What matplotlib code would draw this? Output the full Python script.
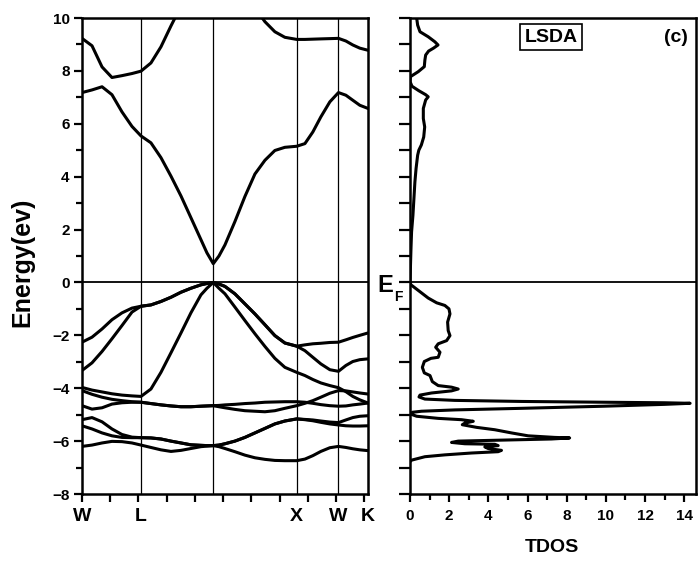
import numpy as np
import matplotlib
matplotlib.use("Agg")
import matplotlib.pyplot as plt
from matplotlib.ticker import MultipleLocator, FixedLocator, NullFormatter
from matplotlib.transforms import blended_transform_factory

plt.rcParams['font.family'] = ['Liberation Sans', 'DejaVu Sans']
plt.rcParams['font.weight'] = 'bold'

# k path W-L-Gamma-X-W-K (units of 2pi/a)
sym_labels = ['W', 'L', 'X', 'W', 'K']
sym_k = [0.0, 0.707, 2.573, 3.073, 3.427]
line_k = [0.707, 1.573, 2.573, 3.073]

k = [0.0, 0.120, 0.240, 0.359, 0.479, 0.599, 0.707,
     0.826, 0.946, 1.066, 1.186, 1.305, 1.425, 1.497, 1.573,
     1.641, 1.713, 1.832, 1.952, 2.072, 2.192, 2.311, 2.431, 2.573,
     2.671, 2.766, 2.862, 2.970, 3.073,
     3.162, 3.245, 3.329, 3.427]

# valence bands (eV)
band1 = [-2.26, -2.07, -1.76, -1.41, -1.15, -0.97, -0.90,
         -0.85, -0.72, -0.56, -0.37, -0.22, -0.09, -0.04, 0.0,
         -0.06, -0.15, -0.43, -0.81, -1.19, -1.60, -2.01, -2.29, -2.41,
         -2.36, -2.32, -2.30, -2.27, -2.26,
         -2.17, -2.08, -2.00, -1.91]
band2 = [-3.33, -3.04, -2.61, -2.13, -1.63, -1.12, -0.90,
         -0.85, -0.72, -0.56, -0.37, -0.22, -0.09, -0.04, 0.0,
         -0.06, -0.15, -0.43, -0.81, -1.19, -1.60, -2.01, -2.29, -2.41,
         -2.58, -2.83, -3.08, -3.30, -3.36,
         -3.14, -2.99, -2.92, -2.89]
band3 = [-3.97, -4.07, -4.14, -4.21, -4.26, -4.29, -4.31,
         -4.03, -3.40, -2.66, -1.91, -1.15, -0.47, -0.22, 0.0,
         -0.22, -0.43, -0.93, -1.44, -1.94, -2.42, -2.87, -3.21, -3.40,
         -3.52, -3.67, -3.80, -3.90, -3.98,
         -4.13, -4.31, -4.44, -4.56]
band4 = [-4.09, -4.23, -4.34, -4.42, -4.47, -4.51, -4.53,
         -4.58, -4.63, -4.67, -4.70, -4.70, -4.68, -4.67, -4.66,
         -4.65, -4.63, -4.61, -4.58, -4.56, -4.53, -4.52, -4.51, -4.51,
         -4.53, -4.57, -4.62, -4.66, -4.68,
         -4.67, -4.63, -4.60, -4.56]
band5 = [-4.66, -4.79, -4.74, -4.60, -4.55, -4.53, -4.53,
         -4.58, -4.63, -4.67, -4.70, -4.70, -4.68, -4.67, -4.66,
         -4.70, -4.74, -4.80, -4.85, -4.87, -4.89, -4.85, -4.76, -4.66,
         -4.57, -4.47, -4.34, -4.19, -4.09,
         -4.10, -4.14, -4.18, -4.22]
band6 = [-5.19, -5.11, -5.27, -5.54, -5.75, -5.85, -5.87,
         -5.88, -5.92, -6.00, -6.07, -6.14, -6.16, -6.17, -6.17,
         -6.15, -6.10, -6.00, -5.86, -5.69, -5.52, -5.35, -5.24, -5.16,
         -5.18, -5.20, -5.24, -5.28, -5.30,
         -5.20, -5.11, -5.06, -5.04]
band7 = [-5.42, -5.54, -5.69, -5.80, -5.86, -5.87, -5.87,
         -5.88, -5.92, -6.00, -6.07, -6.14, -6.16, -6.17, -6.17,
         -6.15, -6.10, -6.00, -5.86, -5.69, -5.52, -5.35, -5.24, -5.16,
         -5.19, -5.23, -5.29, -5.35, -5.39,
         -5.42, -5.43, -5.43, -5.42]
band8 = [-6.20, -6.15, -6.07, -6.01, -6.02, -6.07, -6.15,
         -6.24, -6.33, -6.39, -6.35, -6.28, -6.21, -6.19, -6.17,
         -6.21, -6.28, -6.40, -6.53, -6.63, -6.69, -6.73, -6.74, -6.74,
         -6.68, -6.55, -6.39, -6.25, -6.20,
         -6.24, -6.29, -6.33, -6.36]

# conduction bands
cband1 = [7.18, 7.28, 7.40, 7.10, 6.45, 5.90, 5.54,
          5.28, 4.72, 4.02, 3.27, 2.45, 1.62, 1.12, 0.71,
          1.00, 1.42, 2.30, 3.25, 4.10, 4.62, 4.99, 5.11, 5.15,
          5.25, 5.69, 6.26, 6.83, 7.18,
          7.08, 6.89, 6.70, 6.58]
k_c2 = [0.0, 0.120, 0.240, 0.359, 0.479, 0.599, 0.707, 0.826, 0.946, 1.066, 1.114]
cband2 = [9.23, 8.95, 8.15, 7.75, 7.82, 7.90, 7.99, 8.30, 8.91, 9.70, 10.0]
k_c3 = [2.16, 2.192, 2.311, 2.431, 2.573, 2.671, 2.766, 2.862, 2.970, 3.073,
        3.162, 3.245, 3.329, 3.427]
cband3 = [10.0, 9.86, 9.48, 9.27, 9.19, 9.19, 9.20, 9.21, 9.22, 9.23,
          9.13, 8.98, 8.86, 8.78]

# total DOS: energy (eV) and states
dos_e = [10.0, 9.73, 9.48, 9.29, 9.10, 8.98, 8.86, 8.75, 8.60, 8.41, 8.16, 7.97,
         7.78, 7.60, 7.42, 7.25, 7.10, 7.02, 6.90, 6.58, 6.20, 5.88, 5.50, 5.20,
         5.00, 4.81, 4.31, 3.80, 3.17, 2.54, 1.91, 1.28, 0.52, 0.0,
         -0.09, -0.30, -0.59, -0.77, -0.87, -1.00, -1.19, -1.50, -1.82, -2.01,
         -2.20, -2.32, -2.45, -2.64, -2.83, -2.87, -2.99, -3.21, -3.42, -3.52,
         -3.75, -3.90, -3.96, -4.03, -4.10, -4.18, -4.26, -4.33, -4.41, -4.46,
         -4.50, -4.53, -4.55, -4.57, -4.61, -4.68, -4.76, -4.82, -4.87, -4.91,
         -4.99, -5.06, -5.14, -5.19, -5.25, -5.32, -5.38, -5.48, -5.57, -5.69,
         -5.80, -5.86, -5.88, -5.92, -5.96, -6.00, -6.05, -6.10, -6.12, -6.17,
         -6.22, -6.28, -6.35, -6.40, -6.45, -6.52, -6.59, -6.72, -6.78]
dos_v = [0.34, 0.39, 0.51, 0.93, 1.27, 1.43, 1.20, 0.95, 0.80, 0.76, 0.73, 0.42,
         0.02, 0.0, 0.10, 0.45, 0.80, 0.93, 0.80, 0.68, 0.68, 0.75, 0.70, 0.58,
         0.45, 0.39, 0.31, 0.25, 0.20, 0.15, 0.08, 0.05, 0.02, 0.0,
         0.05, 0.42, 0.93, 1.36, 1.78, 1.99, 2.04, 1.92, 1.95, 2.04,
         1.87, 1.44, 1.31, 1.53, 1.44, 1.07, 0.73, 0.63, 0.73, 1.02,
         1.14, 1.44, 2.12, 2.46, 2.12, 1.10, 0.51, 0.46, 0.76, 2.29,
         5.69, 9.93, 13.0, 14.3, 13.0, 9.93, 5.69, 2.29, 0.59, 0.12,
         0.08, 0.34, 1.44, 2.63, 3.23, 2.80, 2.67, 3.40, 4.33, 5.18,
         6.03, 7.39, 8.15, 7.22, 4.84, 2.46, 2.12, 2.80, 4.33, 4.50,
         3.82, 3.99, 4.67, 4.50, 3.14, 1.78, 0.76, 0.08, 0.0]

W, H = 698, 562
fig = plt.figure(figsize=(W / 100, H / 100), dpi=100)
ax1 = fig.add_axes([82 / W, 68 / H, 286 / W, 476 / H])
ax2 = fig.add_axes([410 / W, 68 / H, 286 / W, 476 / H])

# band structure
for b in [band1, band2, band3, band4, band5, band6, band7, band8, cband1]:
    ax1.plot(k, b, color='black', lw=2.2, solid_joinstyle='round')
ax1.plot(k_c2, cband2, color='black', lw=2.2, solid_joinstyle='round')
ax1.plot(k_c3, cband3, color='black', lw=2.2, solid_joinstyle='round')
for x in line_k:
    ax1.axvline(x, color='black', lw=0.9)
ax1.axhline(0, color='black', lw=1.3)
ax1.set_xlim(0, 3.427)
ax1.set_ylim(-8, 10)
ax1.yaxis.set_major_locator(MultipleLocator(2))
ax1.yaxis.set_minor_locator(MultipleLocator(1))
ax1.xaxis.set_major_locator(FixedLocator(np.arange(0, 3.42, 0.3385)))
ax1.xaxis.set_major_formatter(NullFormatter())
ax1.tick_params(axis='y', which='major', direction='out', length=6, width=1.6,
                labelsize=11, pad=3)
ax1.tick_params(axis='y', which='minor', direction='out', length=4, width=1.6)
ax1.tick_params(axis='x', which='major', direction='out', length=6, width=1.6)
for lab in ax1.get_yticklabels():
    lab.set_fontweight('bold')
trans = blended_transform_factory(ax1.transData, ax1.transAxes)
for kk, lab in zip(sym_k, sym_labels):
    ax1.text(kk, -0.029, lab, transform=trans, ha='center', va='top',
             fontsize=14, fontweight='bold')

# TDOS
ax2.plot(dos_v, dos_e, color='black', lw=2.2, solid_joinstyle='round')
ax2.axhline(0, color='black', lw=1.3)
ax2.set_xlim(0, 14.6)
ax2.set_ylim(-8, 10)
ax2.xaxis.set_major_locator(MultipleLocator(2))
ax2.xaxis.set_minor_locator(MultipleLocator(1))
ax2.yaxis.set_major_locator(MultipleLocator(1))
ax2.yaxis.set_major_formatter(NullFormatter())
ax2.tick_params(axis='x', which='major', direction='out', length=6, width=1.6,
                labelsize=11, pad=5)
ax2.tick_params(axis='x', which='minor', direction='out', length=4, width=1.6)
ax2.tick_params(axis='y', which='major', direction='out', length=8, width=1.6)
for lab in ax2.get_xticklabels():
    lab.set_fontweight('bold')

for ax in (ax1, ax2):
    for sp in ax.spines.values():
        sp.set_linewidth(1.8)

fig.text(22 / W, 1 - 262 / H, 'Energy(ev)', rotation=90, ha='center', va='center',
         fontsize=18, fontweight='bold')
fig.text(552 / W, 1 - 548 / H, 'TDOS', ha='center', va='center',
         fontsize=14, fontweight='bold')
fig.text(377 / W, 1 - 286 / H, 'E', ha='left', va='center',
         fontsize=17, fontweight='bold')
fig.text(394 / W, 1 - 297 / H, 'F', ha='left', va='center',
         fontsize=10, fontweight='bold')
fig.text(551 / W, 1 - 37 / H, 'LSDA', ha='center', va='center', fontsize=14,
         fontweight='bold',
         bbox=dict(boxstyle='square,pad=0.22', fc='white', ec='black', lw=1.2))
fig.text(676 / W, 1 - 37 / H, '(c)', ha='center', va='center',
         fontsize=14, fontweight='bold')

fig.savefig('out.png', dpi=100)
